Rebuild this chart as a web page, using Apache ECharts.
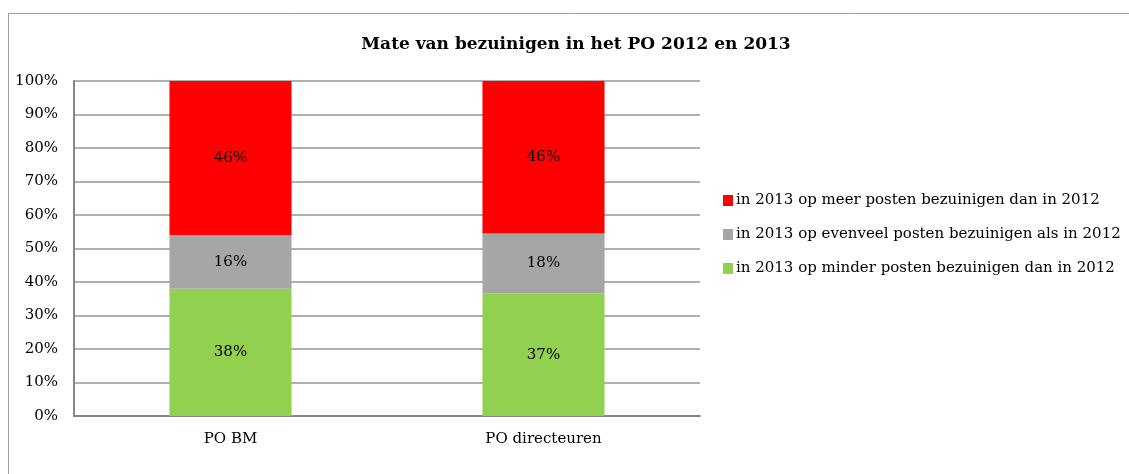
<!DOCTYPE html>
<html>
<head>
<meta charset="UTF-8">
<title>Mate van bezuinigen</title>
<script src="https://cdn.jsdelivr.net/npm/echarts@6/dist/echarts.min.js"></script>
<style>
  *{margin:0;padding:0;}
  body{background:#fff;}
  #main{width:1129px;height:474px;}
</style>
</head>
<body>
<div id="main"></div>
<script>
// categorieen en waarden (zoals in de labels)
var categories = ['PO BM', 'PO directeuren'];
var minder = [38, 37];
var evenveel = [16, 18];
var meer = [46, 46];
var yTicks = [0, 10, 20, 30, 40, 50, 60, 70, 80, 90, 100];

var serif = '"DejaVu Serif", "Liberation Serif", serif';

// 100% gestapeld, net als in Excel
var totals = categories.map(function (c, i) { return minder[i] + evenveel[i] + meer[i]; });
function share(arr) {
  return arr.map(function (v, i) { return { value: v / totals[i] * 100, raw: v }; });
}

function serie(name, arr, color) {
  return {
    name: name,
    type: 'bar',
    stack: 'all',
    barWidth: '39%',
    itemStyle: { color: color },
    label: {
      show: true,
      position: 'inside',
      color: '#000',
      fontFamily: serif,
      fontSize: 15,
      formatter: function (p) { return p.data.raw + '%'; }
    },
    data: share(arr)
  };
}

var myChart = echarts.init(document.getElementById('main'));
var option = {
  animation: false,
  title: {
    text: 'Mate van bezuinigen in het PO 2012 en 2013',
    left: 571,
    textAlign: 'center',
    top: 31,
    textStyle: { fontFamily: serif, fontWeight: 'bold', fontSize: 17, color: '#000' }
  },
  graphic: [{
    type: 'rect',
    shape: { x: 8.5, y: 13.5, width: 1130, height: 470 },
    style: { fill: 'none', stroke: '#a0a0a0', lineWidth: 1 },
    silent: true
  }],
  legend: {
    orient: 'vertical',
    left: 718,
    top: 188,
    itemWidth: 10,
    itemHeight: 11,
    itemGap: 19,
    icon: 'rect',
    data: ['in 2013 op meer posten bezuinigen dan in 2012',
           'in 2013 op evenveel posten bezuinigen als in 2012',
           'in 2013 op minder posten bezuinigen dan in 2012'],
    textStyle: { fontFamily: serif, fontSize: 15, color: '#000', padding: [0, 0, 0, -2] }
  },
  grid: { left: 74, right: 429, top: 81, bottom: 58 },
  xAxis: {
    type: 'category',
    data: categories,
    axisTick: { show: false },
    axisLine: { lineStyle: { color: '#868686', width: 2 } },
    axisLabel: { color: '#000', fontFamily: serif, fontSize: 15, margin: 16 }
  },
  yAxis: {
    type: 'value',
    min: yTicks[0],
    max: yTicks[yTicks.length - 1],
    interval: 10,
    axisLine: { show: true, lineStyle: { color: '#868686', width: 2 } },
    axisTick: { show: false },
    splitLine: { lineStyle: { color: '#969696', width: 1.5 } },
    axisLabel: { color: '#000', fontFamily: serif, fontSize: 15, margin: 16,
      formatter: function (v) { return v + '%'; } }
  },
  series: [
    serie('in 2013 op minder posten bezuinigen dan in 2012', minder, '#92d050'),
    serie('in 2013 op evenveel posten bezuinigen als in 2012', evenveel, '#a6a6a6'),
    serie('in 2013 op meer posten bezuinigen dan in 2012', meer, '#ff0000')
  ]
};
myChart.setOption(option);
</script>
</body>
</html>
